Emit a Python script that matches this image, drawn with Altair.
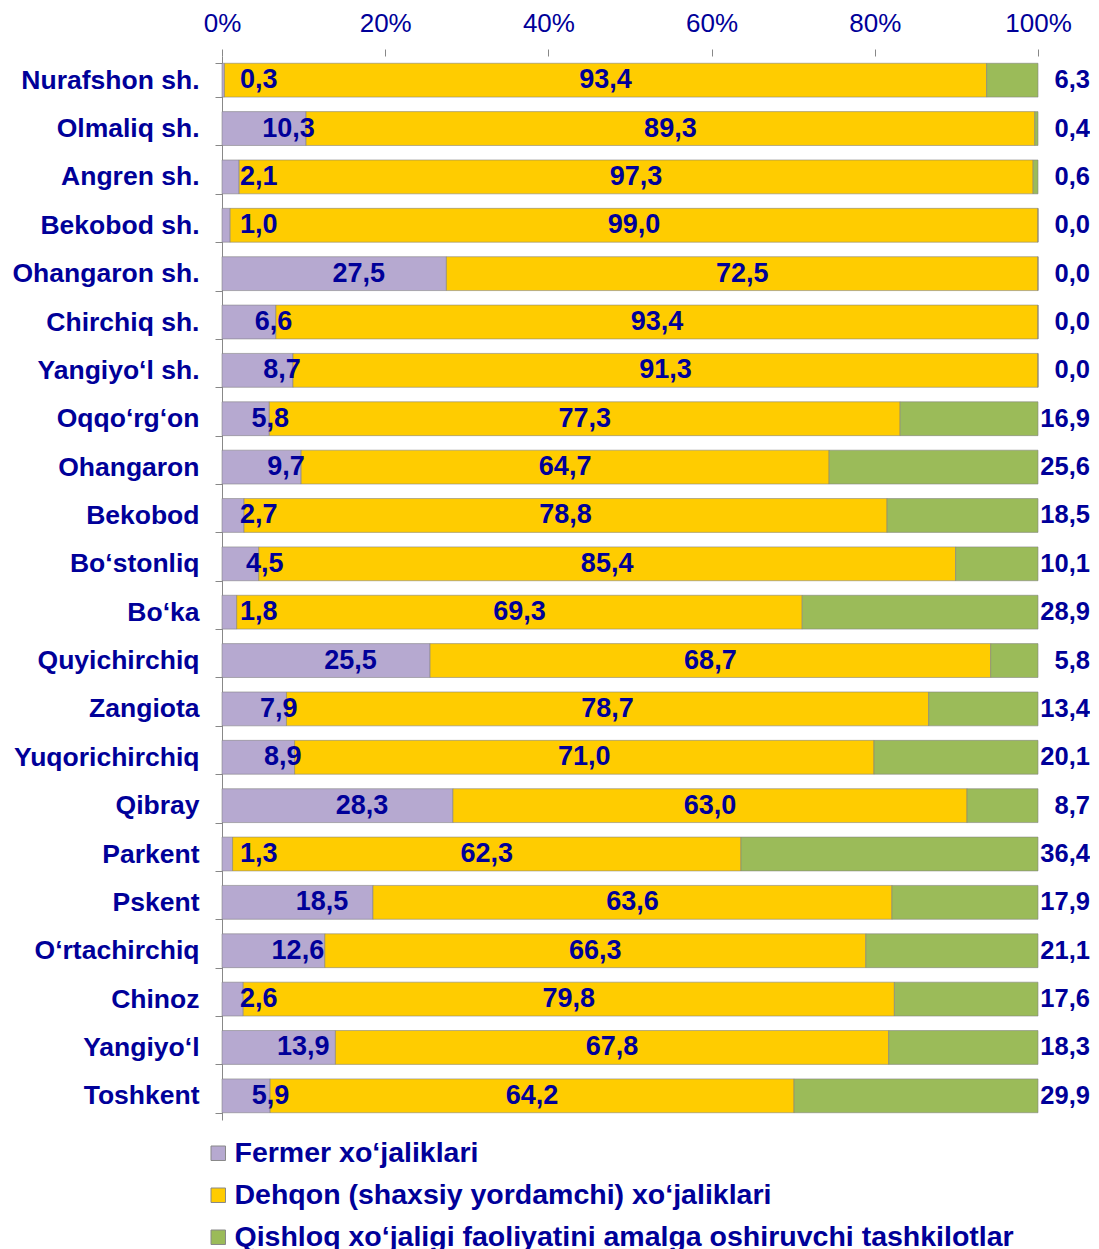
import altair as alt
import pandas as pd

categories = ["Nurafshon sh.", "Olmaliq sh.", "Angren sh.", "Bekobod sh.", "Ohangaron sh.",
              "Chirchiq sh.", "Yangiyo‘l sh.", "Oqqo‘rg‘on", "Ohangaron", "Bekobod",
              "Bo‘stonliq", "Bo‘ka", "Quyichirchiq", "Zangiota", "Yuqorichirchiq", "Qibray",
              "Parkent", "Pskent", "O‘rtachirchiq", "Chinoz", "Yangiyo‘l", "Toshkent"]
fermer = [0.3, 10.3, 2.1, 1.0, 27.5, 6.6, 8.7, 5.8, 9.7, 2.7, 4.5, 1.8, 25.5, 7.9, 8.9, 28.3,
          1.3, 18.5, 12.6, 2.6, 13.9, 5.9]
dehqon = [93.4, 89.3, 97.3, 99.0, 72.5, 93.4, 91.3, 77.3, 64.7, 78.8, 85.4, 69.3, 68.7, 78.7,
          71.0, 63.0, 62.3, 63.6, 66.3, 79.8, 67.8, 64.2]
qishloq = [6.3, 0.4, 0.6, 0.0, 0.0, 0.0, 0.0, 16.9, 25.6, 18.5, 10.1, 28.9, 5.8, 13.4, 20.1,
           8.7, 36.4, 17.9, 21.1, 17.6, 18.3, 29.9]
series = ["Fermer xo‘jaliklari", "Dehqon (shaxsiy yordamchi) xo‘jaliklari",
          "Qishloq xo‘jaligi faoliyatini amalga oshiruvchi tashkilotlar"]
colors = ["#b6a9d0", "#ffcc00", "#9bbb59"]
tick_values = [0, 20, 40, 60, 80, 100]

NAVY = "#000099"
FONT = "Liberation Sans"


def fmt(v):
    return f"{v:.1f}".replace(".", ",")


rows = []
for i, c in enumerate(categories):
    for k, (s, vals) in enumerate(zip(series, [fermer, dehqon, qishloq])):
        rows.append({"cat": c, "series": s, "value": vals[i], "ord": k})
long = pd.DataFrame(rows)

wide = pd.DataFrame({
    "cat": categories,
    "f": fermer, "d": dehqon, "q": qishloq,
    "fl": [fmt(v) for v in fermer],
    "dl": [fmt(v) for v in dehqon],
    "ql": [fmt(v) for v in qishloq],
})

y_enc = alt.Y("cat:N", sort=categories, title=None,
              scale=alt.Scale(paddingInner=0.3, paddingOuter=0.15),
              axis=alt.Axis(labelFont=FONT, labelFontSize=26.5, labelFontWeight="bold",
                            labelColor=NAVY, labelLimit=400, tickBand="extent",
                            tickSize=7, tickColor="#888888", domainColor="#888888",
                            labelPadding=16, minExtent=214, maxExtent=214))

bars = alt.Chart(long).mark_bar(stroke="#7f7f7f", strokeWidth=0.8, strokeOpacity=0.7).encode(
    y=y_enc,
    x=alt.X("value:Q", stack="zero", title=None,
            scale=alt.Scale(domain=[0, 100], nice=False),
            axis=alt.Axis(orient="top", values=tick_values, labelExpr="datum.value + '%'",
                          labelFont=FONT, labelFontSize=26, labelColor=NAVY,
                          labelFlush=False, labelBound=False,
                          domain=False, grid=False, tickSize=7, tickColor="#888888",
                          labelPadding=13, minExtent=48, maxExtent=48)),
    color=alt.Color("series:N", scale=alt.Scale(domain=series, range=colors),
                    legend=alt.Legend(title=None, orient="none", legendX=-18, legendY=1083,
                                      direction="vertical", symbolType="square",
                                      symbolSize=210, symbolStrokeColor="#888888",
                                      symbolStrokeWidth=1, labelFont=FONT,
                                      labelFontSize=28.5, labelFontWeight="bold",
                                      labelColor=NAVY, labelLimit=1000, rowPadding=13,
                                      labelOffset=2)),
    order=alt.Order("ord:Q"),
)

text_style = dict(font=FONT, fontWeight="bold", color=NAVY, baseline="middle")

ftext = alt.Chart(wide).transform_calculate(px="max(datum.f / 2 + 3, 4.5)").mark_text(
    align="center", fontSize=27, **text_style).encode(
    y=alt.Y("cat:N", sort=categories), x="px:Q", text="fl:N")

dtext = alt.Chart(wide).transform_calculate(px="datum.f + datum.d / 2").mark_text(
    align="center", fontSize=27, **text_style).encode(
    y=alt.Y("cat:N", sort=categories), x="px:Q", text="dl:N")

qtext = alt.Chart(wide).transform_calculate(px="100").mark_text(
    align="right", dx=52, fontSize=25.5, **text_style).encode(
    y=alt.Y("cat:N", sort=categories), x="px:Q", text="ql:N")

chart = alt.layer(bars, ftext, dtext, qtext).properties(
    width=816, height=1064, padding=0
).configure_view(stroke=None)

chart.save("out.html", embed_options={"renderer": "svg", "actions": False})
